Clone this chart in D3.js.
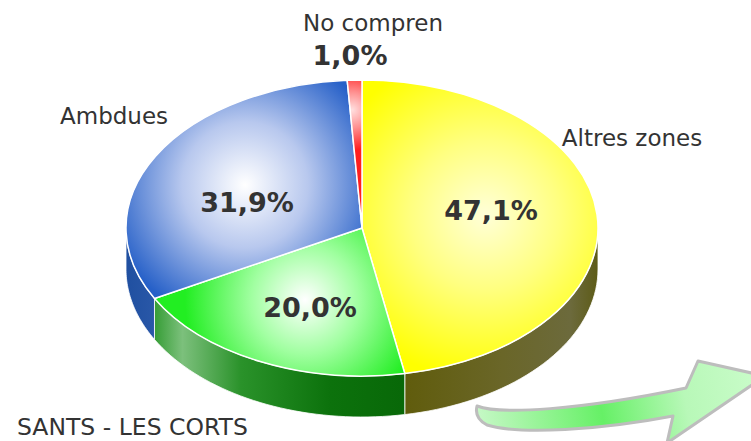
<!DOCTYPE html>
<html>
<head>
<meta charset="utf-8">
<script src="https://cdn.jsdelivr.net/npm/d3@7"></script>
<style>
  html, body { margin: 0; padding: 0; background: #ffffff; }
  svg { display: block; }
  text { font-family: "DejaVu Sans", Verdana, sans-serif; fill: #333333; }
</style>
</head>
<body>
<svg id="chart" width="751" height="441"></svg>
<script>
// Share of responses, Sants - Les Corts
const categories = ["Altres zones", "Sants - Les Corts", "Ambdues", "No compren"];
const labels     = ["Altres zones", "", "Ambdues", "No compren"];
const values     = [47.1, 20.0, 31.9, 1.0];
const valueText  = ["47,1%", "20,0%", "31,9%", "1,0%"];
const districtTitle = "SANTS - LES CORTS";

const W = 751, H = 441;
const cx = 362, cy = 228, rx = 236, ry = 148, depth = 41;

const svg = d3.select("#chart");
const defs = svg.append("defs");

const pie = d3.pie().sort(null).value(d => d)(values);

// elliptical projection of the pie's angle scale
const px = (a) => cx + rx * Math.sin(a);
const py = (a, dy = 0) => cy - ry * Math.cos(a) + dy;

// colours: top face edge, top face centre, side wall
const topEdge   = ["#ffff00", "#22ee22", "#2660c8", "#ff1f1f"];
const topMid    = ["#ffff80", "#a0ffa0", "#b8c8ee", "#ff9090"];
const topCentre = ["#ffffd8", "#ffffff", "#ffffff", "#ffe0e0"];
const gradCentre = [[485, 215, 165], [305, 300, 120], [245, 185, 140], [352, 110, 40]];

topEdge.forEach((c, i) => {
  const g = defs.append("radialGradient")
    .attr("id", "top" + i)
    .attr("gradientUnits", "userSpaceOnUse")
    .attr("cx", gradCentre[i][0]).attr("cy", gradCentre[i][1]).attr("r", gradCentre[i][2]);
  g.append("stop").attr("offset", 0).attr("stop-color", topCentre[i]);
  g.append("stop").attr("offset", 0.45).attr("stop-color", topMid[i]);
  g.append("stop").attr("offset", 1).attr("stop-color", c);
});

// side wall gradients (horizontal)
const sideStops = [
  [[0, "#605c0c"], [0.5, "#6a6628"], [0.85, "#6c6a3c"], [1, "#5c5a14"]],
  [[0, "#2f9a2f"], [0.12, "#7cc07c"], [0.35, "#2a922a"], [0.7, "#0c720c"], [1, "#086808"]],
  [[0, "#1f4fa0"], [1, "#2a58a8"]],
  [[0, "#b01010"], [1, "#b01010"]]
];
const sideRange = [[404, 600], [152, 406], [124, 156], [340, 362]];
sideStops.forEach((stops, i) => {
  const g = defs.append("linearGradient")
    .attr("id", "side" + i)
    .attr("gradientUnits", "userSpaceOnUse")
    .attr("x1", sideRange[i][0]).attr("x2", sideRange[i][1])
    .attr("y1", 0).attr("y2", 0);
  stops.forEach(s => g.append("stop").attr("offset", s[0]).attr("stop-color", s[1]));
});

// arrow gradient
const ag = defs.append("linearGradient").attr("id", "arrowGrad")
  .attr("gradientUnits", "userSpaceOnUse")
  .attr("x1", 475).attr("y1", 420).attr("x2", 751).attr("y2", 370);
ag.append("stop").attr("offset", 0).attr("stop-color", "#c8f8c8");
ag.append("stop").attr("offset", 0.45).attr("stop-color", "#66f066");
ag.append("stop").attr("offset", 0.75).attr("stop-color", "#b8f8b8");
ag.append("stop").attr("offset", 1).attr("stop-color", "#c8fcc8");

// side walls: only the front half (PI/2 .. 3PI/2) is visible
const frontA = Math.PI / 2, frontB = 3 * Math.PI / 2;
function sidePath(a, b) {
  const n = 40;
  const pts = d3.range(n + 1).map(k => a + (b - a) * k / n);
  const top = pts.map(t => [px(t), py(t)]);
  const bot = pts.slice().reverse().map(t => [px(t), py(t, depth)]);
  return d3.line()(top.concat(bot)) + "Z";
}
const sides = svg.append("g");
pie.forEach((d, i) => {
  const a = Math.max(d.startAngle, frontA), b = Math.min(d.endAngle, frontB);
  if (b > a) {
    sides.append("path")
      .attr("d", sidePath(a, b))
      .attr("fill", `url(#side${i})`)
      .attr("stroke", "#ffffff").attr("stroke-width", 0.8);
  }
});

// top faces
function topPath(d) {
  const a = d.startAngle, b = d.endAngle;
  const large = (b - a) > Math.PI ? 1 : 0;
  return `M${cx},${cy}L${px(a)},${py(a)}A${rx},${ry} 0 ${large} 1 ${px(b)},${py(b)}Z`;
}
svg.append("g").selectAll("path").data(pie).join("path")
  .attr("d", topPath)
  .attr("fill", (d, i) => `url(#top${i})`)
  .attr("stroke", "#ffffff").attr("stroke-width", 1.5)
  .attr("stroke-linejoin", "round");

// value labels inside slices and outer category labels
const valuePos = [[491, 220], [310, 317], [247, 212], [350, 65]];
svg.append("g").selectAll("text").data(valueText).join("text")
  .attr("x", (d, i) => valuePos[i][0]).attr("y", (d, i) => valuePos[i][1])
  .attr("text-anchor", "middle")
  .attr("font-size", 27).attr("font-weight", "bold")
  .text(d => d);

const catPos = [[632, 146, "middle"], null, [60, 124, "start"], [373, 31, "middle"]];
svg.append("g").selectAll("text").data(labels.map((l, i) => ({ l, p: catPos[i] })).filter(d => d.p))
  .join("text")
  .attr("x", d => d.p[0]).attr("y", d => d.p[1])
  .attr("text-anchor", d => d.p[2])
  .attr("font-size", 23)
  .text(d => d.l);

svg.append("text")
  .attr("x", 17).attr("y", 435)
  .attr("font-size", 23.5)
  .text(districtTitle);

// curved arrow leaving the chart at the bottom right
svg.append("path")
  .attr("d", "M477,406 C500,415 580,410 686,388 L698,361 L765,376 L667,443 L673,416 C600,430 520,435 487,425 Q474,418 477,406 Z")
  .attr("fill", "url(#arrowGrad)")
  .attr("stroke", "#bdbdbd").attr("stroke-width", 3)
  .attr("stroke-linejoin", "round");
</script>
</body>
</html>
